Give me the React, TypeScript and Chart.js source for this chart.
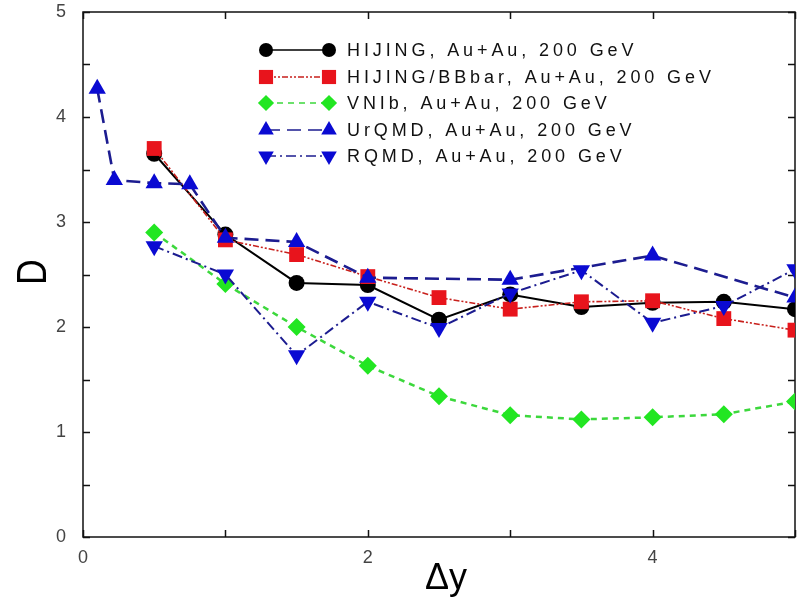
import React, { useEffect, useRef } from "react";
import { Chart, registerables } from "chart.js";
Chart.register(...registerables);

// ---- data ----
const xHalf = [0.5, 1, 1.5, 2, 2.5, 3, 3.5, 4, 4.5, 5];
const hijing = [3.65, 2.88, 2.42, 2.4, 2.07, 2.31, 2.19, 2.23, 2.24, 2.17];
const hijingBB = [3.7, 2.83, 2.69, 2.48, 2.28, 2.17, 2.24, 2.25, 2.08, 1.97];
const vnib = [2.9, 2.41, 2.0, 1.63, 1.34, 1.16, 1.12, 1.14, 1.17, 1.29];
const urqmdX = [0.1, 0.22, 0.5, 0.75, 1, 1.5, 2, 3, 4, 5];
const urqmd = [4.27, 3.4, 3.37, 3.36, 2.85, 2.81, 2.47, 2.45, 2.68, 2.28];
const rqmd = [2.77, 2.5, 1.73, 2.24, 1.99, 2.32, 2.54, 2.04, 2.2, 2.55];

const seriesLabels = [
  "HIJING, Au+Au, 200 GeV",
  "HIJING/BBbar, Au+Au, 200 GeV",
  "VNIb, Au+Au, 200 GeV",
  "UrQMD, Au+Au, 200 GeV",
  "RQMD, Au+Au, 200 GeV",
];
const yTickMarks = [0, 0.5, 1, 1.5, 2, 2.5, 3, 3.5, 4, 4.5, 5];
const xTickMarks = [0, 1, 2, 3, 4, 5];

const FONT = '"Liberation Sans", Arial, sans-serif';

type Style = {
  line: string;
  fill: string;
  dash: number[];
  width: number;
  shape: string;
  r: number;
};
const styles: Style[] = [
  { line: "#000000", fill: "#000000", dash: [], width: 2, shape: "circle", r: 8 },
  { line: "#c8201c", fill: "#e8141c", dash: [6, 2, 2, 2, 2, 2], width: 1.6, shape: "rect", r: 10.5 },
  { line: "#3cd83c", fill: "#22e622", dash: [6, 5], width: 2.5, shape: "diamond", r: 9 },
  { line: "#1c1c90", fill: "#0a0ad2", dash: [14, 7], width: 2.6, shape: "up", r: 10 },
  { line: "#1c1c90", fill: "#0a0ad2", dash: [10, 4, 2, 4], width: 2, shape: "down", r: 10 },
];

function pts(xs: number[], ys: number[]) {
  return xs.map((x, i) => ({ x, y: ys[i] }));
}

function drawMarker(ctx: CanvasRenderingContext2D, shape: string, x: number, y: number, r: number, color: string) {
  ctx.save();
  ctx.fillStyle = color;
  ctx.beginPath();
  if (shape === "circle") {
    ctx.arc(x, y, r, 0, Math.PI * 2);
  } else if (shape === "rect") {
    const s = r * Math.SQRT1_2;
    ctx.rect(x - s, y - s, 2 * s, 2 * s);
  } else if (shape === "diamond") {
    ctx.moveTo(x, y - r);
    ctx.lineTo(x + r, y);
    ctx.lineTo(x, y + r);
    ctx.lineTo(x - r, y);
    ctx.closePath();
  } else if (shape === "up" || shape === "down") {
    const d = shape === "up" ? 1 : -1;
    ctx.moveTo(x, y - d * r);
    ctx.lineTo(x + r * 0.866, y + d * r * 0.5);
    ctx.lineTo(x - r * 0.866, y + d * r * 0.5);
    ctx.closePath();
  }
  ctx.fill();
  ctx.restore();
}

const framePlugin = {
  id: "framePlugin",
  beforeDatasetsDraw(chart: any) {
    const { ctx, chartArea: a, scales } = chart;
    ctx.save();
    ctx.strokeStyle = "#111";
    ctx.lineWidth = 1.5;
    ctx.strokeRect(a.left, a.top, a.right - a.left, a.bottom - a.top);
    ctx.beginPath();
    for (const v of yTickMarks) {
      const py = Math.round(scales.y.getPixelForValue(v)) + 0.5;
      ctx.moveTo(a.left, py);
      ctx.lineTo(a.left + 7, py);
      ctx.moveTo(a.right, py);
      ctx.lineTo(a.right - 7, py);
    }
    for (const v of xTickMarks) {
      const px = Math.round(scales.x.getPixelForValue(v)) + 0.5;
      ctx.moveTo(px, a.bottom);
      ctx.lineTo(px, a.bottom - 7);
      ctx.moveTo(px, a.top);
      ctx.lineTo(px, a.top + 7);
    }
    ctx.stroke();
    ctx.restore();
  },
  afterDraw(chart: any) {
    const { ctx } = chart;
    ctx.save();
    // legend
    const x1 = 266;
    const x2 = 329;
    const rows = [50, 77, 103, 130, 156];
    seriesLabels.forEach((lab, i) => {
      const st = styles[i];
      const y = rows[i];
      ctx.save();
      ctx.strokeStyle = st.line;
      ctx.lineWidth = Math.min(st.width, 1.5);
      ctx.setLineDash(st.dash);
      ctx.beginPath();
      ctx.moveTo(x1, y);
      ctx.lineTo(x2, y);
      ctx.stroke();
      ctx.restore();
      const r = st.shape === "rect" ? 10 : st.shape === "circle" ? 7 : st.r * 0.9;
      drawMarker(ctx, st.shape, x1, y, r, st.fill);
      drawMarker(ctx, st.shape, x2, y, r, st.fill);
      ctx.fillStyle = "#111";
      ctx.font = `18px ${FONT}`;
      (ctx as any).letterSpacing = "3.9px";
      ctx.textAlign = "left";
      ctx.textBaseline = "middle";
      ctx.fillText(lab, 347, y + 1);
      (ctx as any).letterSpacing = "0px";
    });
    // axis titles
    ctx.fillStyle = "#000";
    ctx.textAlign = "center";
    ctx.textBaseline = "middle";
    ctx.save();
    ctx.translate(34, 272);
    ctx.rotate(-Math.PI / 2);
    ctx.scale(0.85, 1);
    ctx.font = `42px ${FONT}`;
    ctx.fillText("D", 0, 0);
    ctx.restore();
    ctx.save();
    ctx.translate(446, 579);
    ctx.font = `36px ${FONT}`;
    ctx.fillText("\u0394y", 0, 0);
    ctx.restore();
    ctx.restore();
  },
};

export default function App() {
  const ref = useRef<HTMLCanvasElement | null>(null);
  useEffect(() => {
    document.body.style.margin = "0";
    const canvas = ref.current;
    if (!canvas) return;
    const xsList = [xHalf, xHalf, xHalf, urqmdX, xHalf];
    const ysList = [hijing, hijingBB, vnib, urqmd, rqmd];
    const orders = [5, 3, 4, 2, 1];
    const datasets = seriesLabels.map((label, i) => {
      const st = styles[i];
      const pointStyle =
        st.shape === "circle" ? "circle" : st.shape === "rect" ? "rect" : st.shape === "diamond" ? "rectRot" : "triangle";
      return {
        label,
        data: pts(xsList[i], ysList[i]),
        borderColor: st.line,
        backgroundColor: st.fill,
        borderWidth: st.width,
        borderDash: st.dash,
        pointStyle,
        pointRadius: st.r,
        pointRotation: st.shape === "down" ? 180 : 0,
        pointBackgroundColor: st.fill,
        pointBorderColor: st.fill,
        pointBorderWidth: 0,
        showLine: true,
        tension: 0,
        fill: false,
        order: orders[i],
      };
    });
    const chart = new Chart(canvas, {
      type: "line",
      data: { datasets },
      plugins: [framePlugin],
      options: {
        animation: false,
        responsive: false,
        maintainAspectRatio: false,
        layout: { padding: { left: 0, top: 12, right: 11, bottom: 0 } },
        plugins: { legend: { display: false }, tooltip: { enabled: false } },
        scales: {
          x: {
            type: "linear",
            min: 0,
            max: 5,
            grid: { display: false, drawTicks: false },
            border: { display: false },
            ticks: {
              stepSize: 1,
              autoSkip: false,
              maxRotation: 0,
              padding: 10,
              color: "#444",
              font: { family: FONT, size: 18 },
              callback: (v: any) => (Number(v) % 2 === 0 ? String(v) : ""),
            },
            afterFit: (s: any) => {
              s.height = 64;
              s.paddingLeft = 0;
              s.paddingRight = 0;
            },
          },
          y: {
            type: "linear",
            min: 0,
            max: 5,
            grid: { display: false, drawTicks: false },
            border: { display: false },
            ticks: {
              stepSize: 1,
              padding: 17,
              color: "#444",
              font: { family: FONT, size: 18 },
            },
            afterFit: (s: any) => {
              s.width = 83;
              s.paddingTop = 0;
              s.paddingBottom = 0;
            },
          },
        },
      },
    });
    return () => chart.destroy();
  }, []);
  return (
    <div style={{ width: 806, height: 601, background: "#fff" }}>
      <canvas ref={ref} width={806} height={601} style={{ display: "block" }} />
    </div>
  );
}
